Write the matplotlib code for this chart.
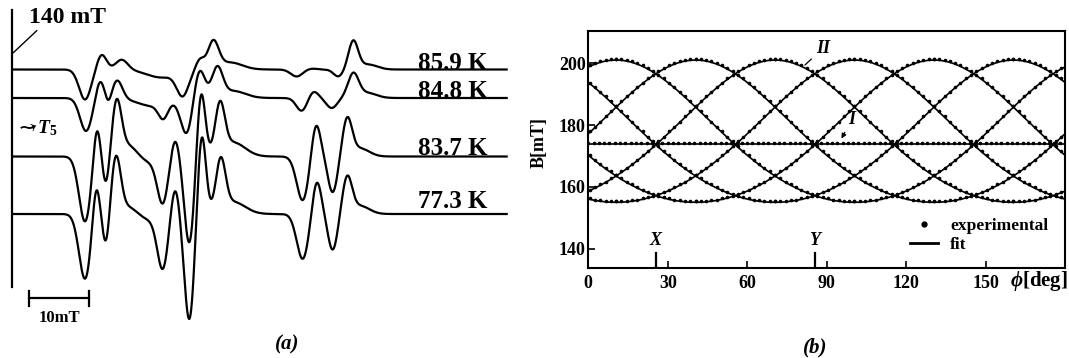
import numpy as np
import matplotlib
matplotlib.use('Agg')
import matplotlib.pyplot as plt
from matplotlib.lines import Line2D

plt.rcParams['font.family'] = ['Liberation Serif', 'DejaVu Sans']
plt.rcParams['font.weight'] = 'bold'
plt.rcParams['axes.labelweight'] = 'bold'
plt.rcParams['mathtext.fontset'] = 'custom'
plt.rcParams['mathtext.rm'] = 'Liberation Serif:bold'
plt.rcParams['mathtext.it'] = 'Liberation Serif:italic:bold'
plt.rcParams['mathtext.bf'] = 'Liberation Serif:bold'

# ---- (a) EPR spectra: line list per temperature (field mT, signed height, width mT)
temps = ['85.9 K', '84.8 K', '83.7 K', '77.3 K']
offsets = [0.0, -28.5, -87.0, -144.5]
label_y = [-0.5, -28.8, -85.5, -138.8]

pos_859 = [152.18, 154.97, 158.33, 165.0, 168.54, 171.44, 173.67, 176.5, 187.64, 190.0, 194.61, 197.12, 199.6]
amp_859 = [-30, 15, 10, -8, -24, 10, 27, 7, -7, 1, -7, 28, 5]
wid_859 = [1.0, 0.8, 1.0, 2.5, 1.0, 0.7, 0.9, 2.0, 1.0, 1.0, 0.8, 0.8, 1.5]

pos_848 = [152.35, 154.69, 156.1, 157.59, 163.5, 165.29, 169.21, 171.32, 174.34, 177.0, 188.48, 190.42, 193.50, 197.12, 199.5]
amp_848 = [-33, 18, -8, 18, -8, -15, -36, 30, 29, 7, -13, 7, -10, 24, 5]
wid_848 = [1.0, 0.7, 0.5, 0.85, 2.5, 0.8, 1.0, 0.9, 0.9, 2.0, 0.9, 0.8, 0.9, 0.9, 1.5]

pos_837 = [152.18, 154.14, 155.70, 157.49, 159.5, 163.0, 165.19, 167.25, 169.65, 171.61, 174.79, 177.0, 188.64, 190.87, 193.67, 196.11, 198.3]
amp_837 = [-65, 35, -30, 53, 12, -6, -44, 20, -87, 67, 48, 14, -44, 34, -36, 37, 8]
wid_837 = [1.0, 0.6, 0.6, 0.8, 1.5, 2.0, 0.9, 0.7, 0.85, 0.7, 0.8, 2.0, 1.0, 0.75, 0.8, 0.8, 1.5]

pos_773 = [152.18, 154.02, 155.70, 157.37, 159.5, 163.0, 165.19, 167.25, 169.65, 171.72, 174.91, 177.0, 188.64, 190.99, 193.67, 196.11, 198.3]
amp_773 = [-65, 35, -33, 56, 8, -6, -52, 29, -106, 81, 50, 12, -45, 34, -36, 36, 8]
wid_773 = [1.0, 0.6, 0.6, 0.8, 1.5, 2.0, 0.9, 0.7, 0.85, 0.7, 0.8, 2.0, 1.0, 0.75, 0.8, 0.8, 1.5]

lines_a = [(pos_859, amp_859, wid_859), (pos_848, amp_848, wid_848),
           (pos_837, amp_837, wid_837), (pos_773, amp_773, wid_773)]

# ---- (b) angular dependence
B_par, B_perp = 201.0, 155.0
site_axes = [10.5, 40.5, 70.5, 100.5, 130.5, 160.5]
B_line_I = 174.0
theta_exp = np.arange(0, 91, 2)
B_exp = [201.3, 201.2, 201.0, 200.6, 200.0, 199.3, 198.4, 197.4, 196.3, 195.1,
         193.7, 192.3, 190.8, 189.3, 187.7, 186.1, 184.4, 182.8, 181.1, 179.5,
         177.9, 176.2, 174.7, 173.1, 171.6, 170.2, 168.8, 167.4, 166.2, 165.0,
         163.8, 162.7, 161.7, 160.8, 159.9, 159.1, 158.4, 157.7, 157.2, 156.7,
         156.3, 155.9, 155.7, 155.5, 155.3, 155.3]
phi_I = np.arange(0, 181, 2)
B_I_exp = 174.1
X_dir, Y_dir = 25.5, 85.5


def spectrum(field, pos, amp, wid):
    out = np.zeros_like(field)
    for p, a, w in zip(pos, amp, wid):
        out += a * np.exp(-0.5 * ((field - p) / w) ** 2)
    return out


def resonance(phi, axis):
    th = np.radians(phi - axis)
    return 1.0 / np.sqrt(np.cos(th) ** 2 / B_par ** 2 + np.sin(th) ** 2 / B_perp ** 2)


W, H = 1069, 358
fig = plt.figure(figsize=(W / 100, H / 100), dpi=100)

# ---------- panel (a)
ax = fig.add_axes([0, 0, 540 / W, 1])
ax.set_xlim(137.94, 228.39)
ax.set_ylim(-288.5, 69.5)
ax.axis('off')

field = np.linspace(140, 222.8, 2000)
for (pos, amp, wid), off, t, ly in zip(lines_a, offsets, temps, label_y):
    ax.plot(field, off + spectrum(field, pos, amp, wid), color='k', lw=1.6)
    ax.text(208.0, ly, t, fontsize=18, ha='left', va='baseline')

ax.plot([140, 140], [59.5, -217], color='k', lw=1.6)
ax.plot([140.17, 144.09], [16.8, 38.8], color='k', lw=1.0)
ax.text(142.85, 46.2, '140 mT', fontsize=17, ha='left', va='baseline')
ax.text(140.45, -58.8, r'$\rightsquigarrow\!T_5$', fontsize=14, ha='left', va='center')

ax.plot([142.85, 152.85], [-228.8, -228.8], color='k', lw=1.6)
for xe in (142.85, 152.85):
    ax.plot([xe, xe], [-221.3, -236.3], color='k', lw=1.6)
ax.text(147.85, -248.5, '10mT', fontsize=12, ha='center', va='center')
fig.text(287 / W, 1 - 344 / H, '(a)', fontsize=15, style='italic', ha='center', va='center')

# ---------- panel (b)
bx = fig.add_axes([588.3 / W, 1 - 267.7 / H, 476.7 / W, 237 / H])
bx.set_xlim(0, 180)
bx.set_ylim(133.85, 210.5)

phi = np.linspace(0, 180, 721)
for p in site_axes:
    bx.plot(phi, resonance(phi, p), color='k', lw=1.2)
    xs = np.concatenate([p + theta_exp, p - theta_exp]) % 180
    ys = np.concatenate([B_exp, B_exp])
    bx.plot(xs, ys, 'o', color='k', ms=2.6, mew=0)
bx.axhline(B_line_I, color='k', lw=1.2)
bx.plot(phi_I, np.full(phi_I.shape, B_I_exp), 'o', color='k', ms=2.6, mew=0)

for d, name in ((X_dir, 'X'), (Y_dir, 'Y')):
    bx.plot([d, d], [133.85, 138.7], color='k', lw=1.6)
    bx.text(d, 142.8, name, fontsize=13, style='italic', ha='center', va='center')

bx.annotate('II', xy=(81.8, 199.4), xytext=(88.7, 204.9), fontsize=13, style='italic',
            ha='center', va='center',
            arrowprops=dict(arrowstyle='-', color='k', lw=0.9, shrinkA=2, shrinkB=0))
bx.annotate('I', xy=(95.6, 175.6), xytext=(99.4, 181.7), fontsize=13, style='italic',
            ha='center', va='center',
            arrowprops=dict(arrowstyle='-|>', color='k', lw=0.9, mutation_scale=7,
                            shrinkA=1, shrinkB=0))

bx.set_xticks([0, 30, 60, 90, 120, 150])
bx.set_yticks([140, 160, 180, 200])
bx.tick_params(direction='in', length=5, width=1.2, labelsize=13)
bx.tick_params(axis='x', pad=5)
bx.tick_params(axis='y', pad=2)
for s in bx.spines.values():
    s.set_linewidth(1.5)
bx.set_ylabel('B[mT]', fontsize=13, labelpad=2)
bx.yaxis.set_label_coords(-0.085, 0.53)
bx.text(1.006, -0.055, r'$\phi$[deg]', transform=bx.transAxes, fontsize=15,
        ha='right', va='center')

handles = [Line2D([], [], marker='o', ls='none', ms=3.5, color='k'),
           Line2D([], [], lw=2, color='k')]
bx.legend(handles, ['experimental', 'fit'], loc='lower left', bbox_to_anchor=(0.675, 0.06),
          frameon=False, handlelength=1.6, handletextpad=0.7, labelspacing=0.2,
          borderpad=0, borderaxespad=0, fontsize=12.5)
fig.text(815 / W, 1 - 347 / H, '(b)', fontsize=15, style='italic', ha='center', va='center')

fig.savefig('out.png', dpi=100)
